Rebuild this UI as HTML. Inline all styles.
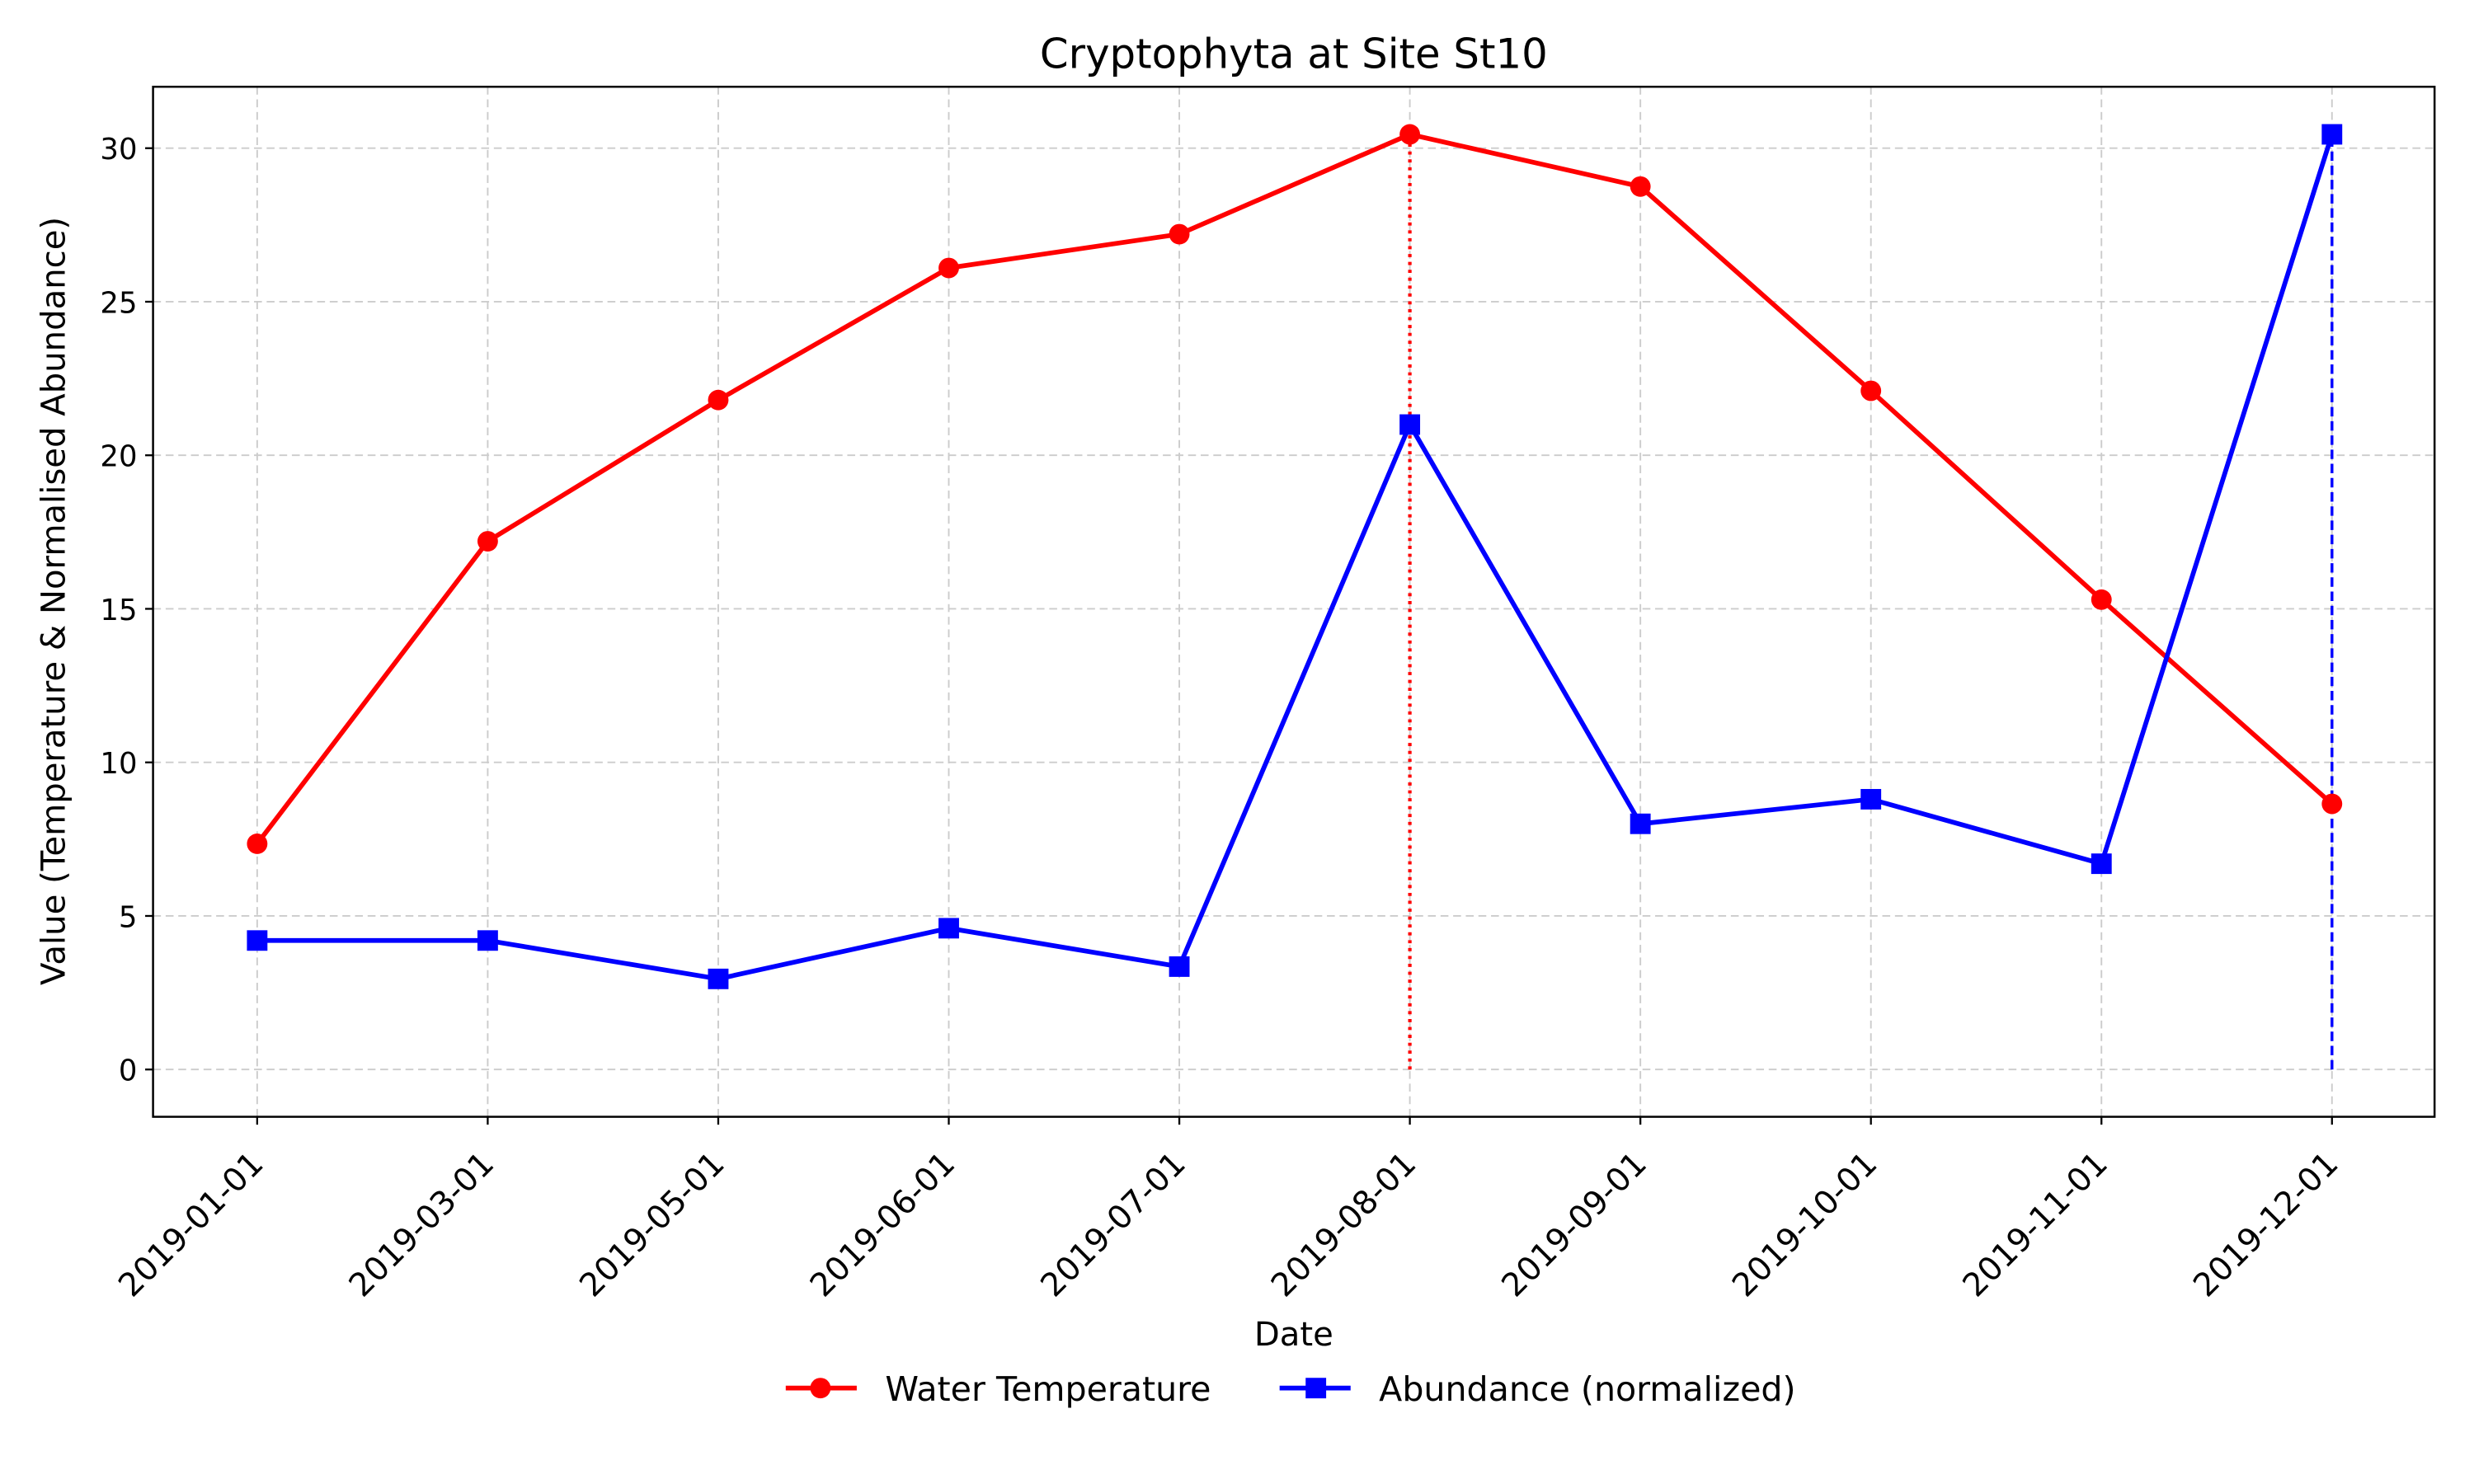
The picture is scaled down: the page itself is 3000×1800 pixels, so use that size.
<!DOCTYPE html>
<html><head><meta charset="utf-8"><style>html,body{margin:0;padding:0;background:#fff}svg{display:block}text{font-family:"DejaVu Sans","Liberation Sans",sans-serif;fill:#000}</style></head>
<body>
<svg id="chart" width="3000" height="1800" viewBox="0 0 1568 940.8" xmlns="http://www.w3.org/2000/svg">
<rect x="0" y="0" width="1568" height="941" fill="#fff"/>
<g id="grid"></g>
<g id="marks"></g>
<rect x="97" y="55" width="1446" height="653" fill="none" stroke="#000" stroke-width="1.3"/>
<g id="axes"></g>
<text x="820" y="43" font-size="26" text-anchor="middle">Cryptophyta at Site St10</text>
<text x="820" y="853" font-size="21" text-anchor="middle">Date</text>
<text transform="translate(41,381) rotate(-90)" font-size="21" text-anchor="middle">Value (Temperature &amp; Normalised Abundance)</text>
<g>
<g>
<line x1="498" y1="880" x2="543" y2="880" stroke="#f00" stroke-width="3"/><circle cx="520" cy="880" r="6.5" fill="#f00"/>
<text x="561" y="888" font-size="21.5">Water Temperature</text></g>
<g>
<line x1="811" y1="880" x2="856" y2="880" stroke="#00f" stroke-width="3"/><rect x="827.5" y="873.5" width="13" height="13" fill="#00f"/>
<text x="874" y="888" font-size="21.5">Abundance (normalized)</text></g>
</g>
</svg>
<script>
const categories=["2019-01-01","2019-03-01","2019-05-01","2019-06-01","2019-07-01","2019-08-01","2019-09-01","2019-10-01","2019-11-01","2019-12-01"];
const temperature=[7.35,17.2,21.8,26.1,27.2,30.45,28.75,22.1,15.3,8.65];
const abundance=[4.2,4.2,2.95,4.6,3.35,21.0,8.0,8.8,6.7,30.45];
const yTicks=[0,5,10,15,20,25,30];
const NS="http://www.w3.org/2000/svg";
const Y0=-1.54,Y1=32.0,PT=55,PB=708;
function xs(i){return 163+i*146.11;}
function ys(v){return PB-(v-Y0)/(Y1-Y0)*(PB-PT);}
function mk(tag,attrs,parent){const e=document.createElementNS(NS,tag);for(const k in attrs)e.setAttribute(k,attrs[k]);parent.appendChild(e);return e;}
const grid=document.getElementById('grid'),marks=document.getElementById('marks'),axes=document.getElementById('axes');
yTicks.forEach(t=>{
 const g=mk('line',{x1:97,x2:1543,y1:ys(t),y2:ys(t),stroke:'#ccc','stroke-width':1,'stroke-dasharray':'5,3'},grid);
 
 
 const tk=mk('line',{x1:92,x2:97,y1:ys(t),y2:ys(t),stroke:'#000','stroke-width':1.2},axes);
 
 
 const tx=mk('text',{x:87,y:ys(t)+7,'font-size':18.5,'text-anchor':'end'},axes);
 tx.textContent=t;
 
 
});
categories.forEach((c,i)=>{
 const g=mk('line',{x1:xs(i),x2:xs(i),y1:PT,y2:PB,stroke:'#ccc','stroke-width':1,'stroke-dasharray':'5,3'},grid);
 
 
 const tk=mk('line',{x1:xs(i),x2:xs(i),y1:PB,y2:PB+5,stroke:'#000','stroke-width':1.2},axes);
 
 
 const tx=mk('text',{transform:`translate(${xs(i)+5},${PB+31}) rotate(-45)`,'font-size':20.5,'text-anchor':'end'},axes);
 tx.textContent=c;
 
 
});
const ti=temperature.indexOf(Math.max(...temperature));
const ai=abundance.indexOf(Math.max(...abundance));
const vt=mk('line',{x1:xs(ti),x2:xs(ti),y1:ys(0),y2:ys(temperature[ti]),stroke:'#f00','stroke-width':2.2,'stroke-dasharray':'2,3'},marks);


const va=mk('line',{x1:xs(ai),x2:xs(ai),y1:ys(0),y2:ys(abundance[ai]),stroke:'#00f','stroke-width':1.8,'stroke-dasharray':'6,3'},marks);


const tl=mk('polyline',{points:temperature.map((v,i)=>xs(i)+','+ys(v)).join(' '),fill:'none',stroke:'#f00','stroke-width':3,'stroke-linejoin':'round'},marks);


const al=mk('polyline',{points:abundance.map((v,i)=>xs(i)+','+ys(v)).join(' '),fill:'none',stroke:'#00f','stroke-width':3,'stroke-linejoin':'round'},marks);


temperature.forEach((v,i)=>{
 const c=mk('circle',{cx:xs(i),cy:ys(v),r:6.5,fill:'#f00'},marks);
 
 
});
abundance.forEach((v,i)=>{
 const r=mk('rect',{x:xs(i)-6.5,y:ys(v)-6.5,width:13,height:13,fill:'#00f'},marks);
 
 
});
</script>
</body></html>
